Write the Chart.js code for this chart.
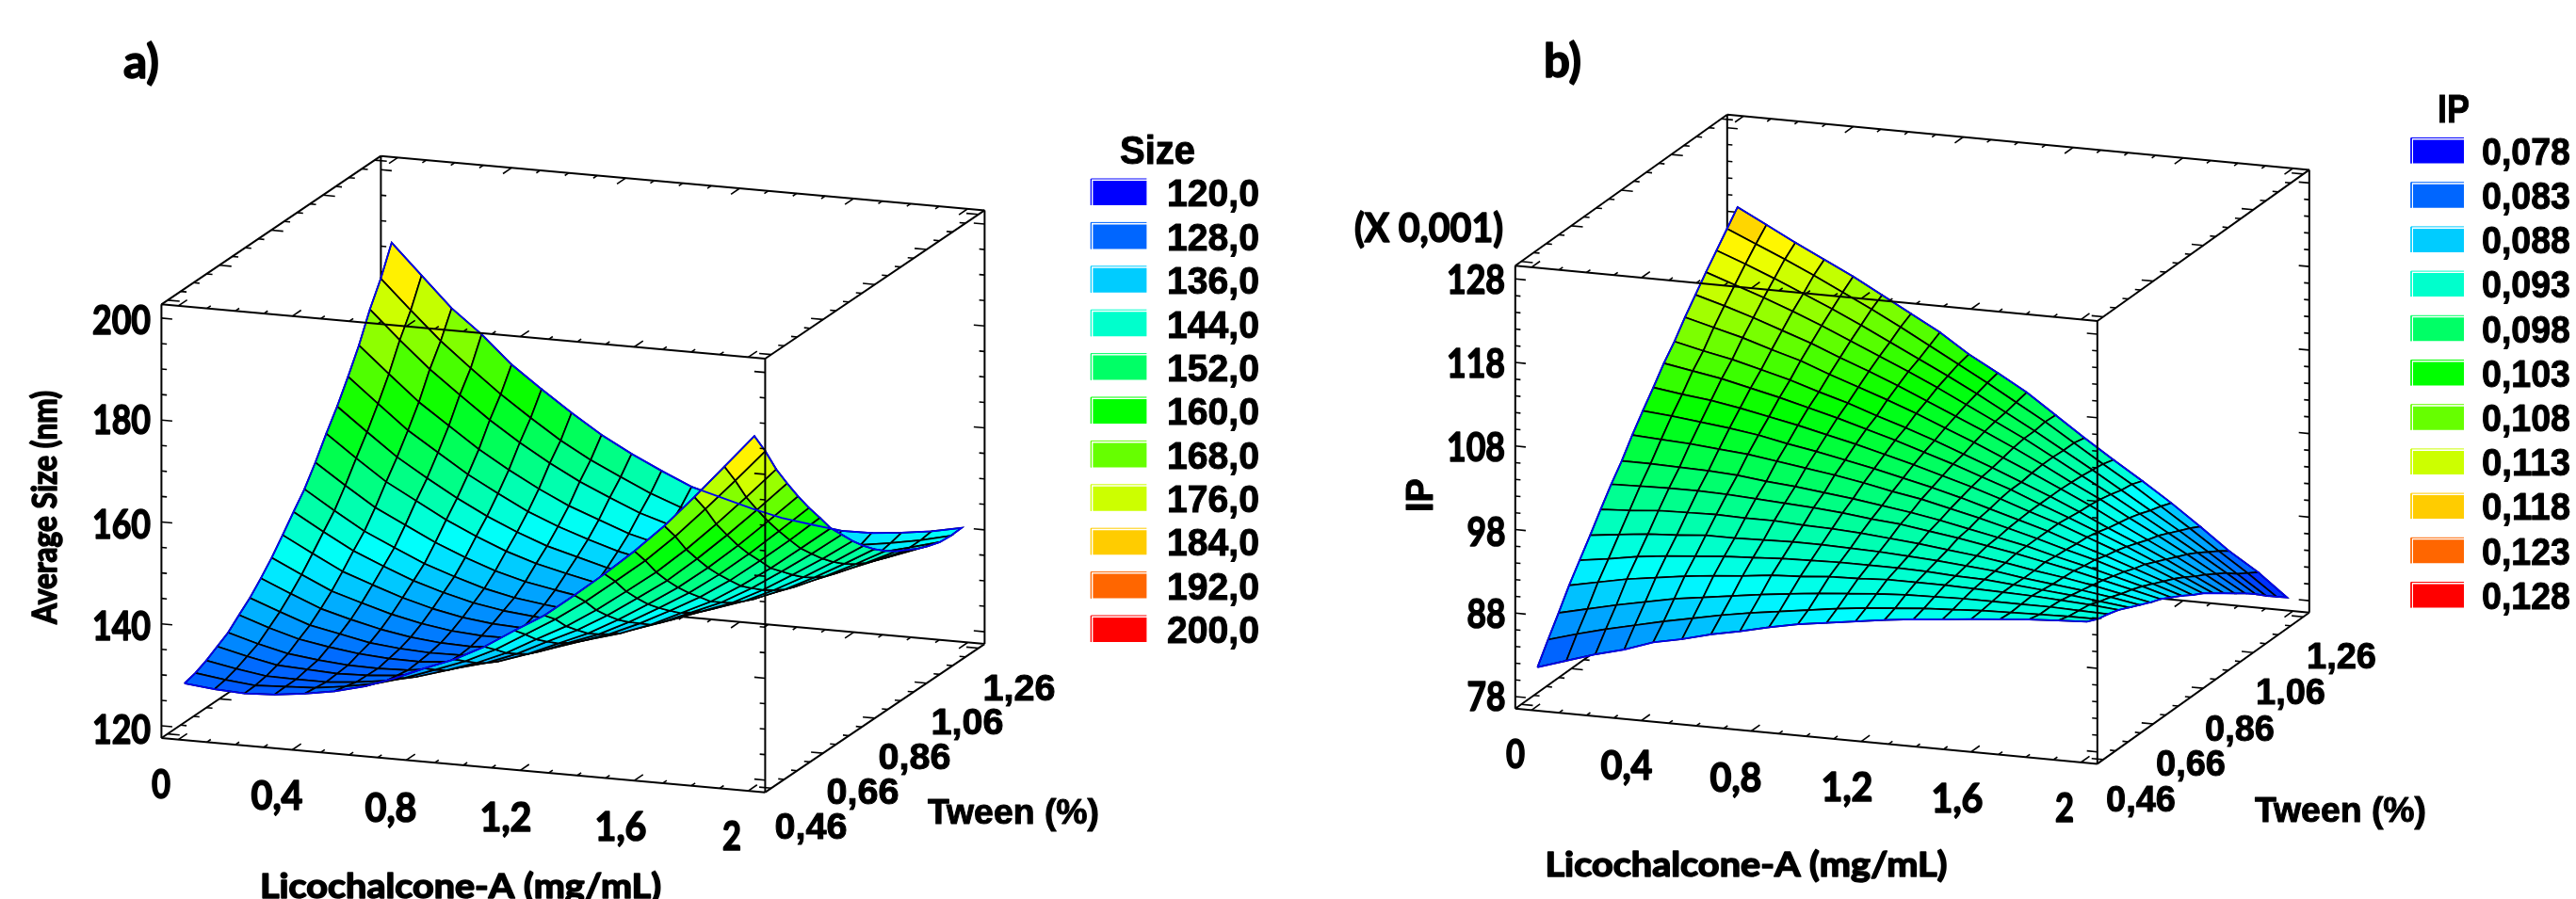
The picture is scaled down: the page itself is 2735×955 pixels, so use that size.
<!DOCTYPE html>
<html>
<head>
<meta charset="utf-8">
<title>Size and IP response surfaces</title>
<script src="https://cdn.jsdelivr.net/npm/chart.js@4"></script>
<style>
  html, body { margin: 0; padding: 0; background: #fff; overflow: hidden; }
  #wrap { position: relative; width: 2735px; height: 955px; }
  canvas { position: absolute; top: 0; }
</style>
</head>
<body>
<div id="wrap">
  <canvas id="sizeChart" width="1400" height="955" style="left:0"></canvas>
  <canvas id="ipChart" width="1335" height="955" style="left:1400px"></canvas>
</div>
<script>
const licoTicks = ['0', '0,4', '0,8', '1,2', '1,6', '2'];
const tweenTicks = ['0,46', '0,66', '0,86', '1,06', '1,26'];
const sizeTicks = ['120', '140', '160', '180', '200'];
const ipTicks = ['78', '88', '98', '108', '118', '128'];
const sizeLegend = ['120,0', '128,0', '136,0', '144,0', '152,0', '160,0', '168,0', '176,0', '184,0', '192,0', '200,0'];
const ipLegend = ['0,078', '0,083', '0,088', '0,093', '0,098', '0,103', '0,108', '0,113', '0,118', '0,123', '0,128'];
const legendColors = ['#0000ff', '#0066ff', '#00ccff', '#00ffcc', '#00ff66', '#00ff00', '#66ff00', '#ccff00', '#ffcc00', '#ff6600', '#ff0000'];
const rainbow = [[0, 0, 255], [0, 255, 255], [0, 255, 0], [255, 255, 0], [255, 0, 0]];

// node heights, one row per Tween step (0,46 first), 20 nodes along Licochalcone-A.
// outer rows and row ends measured off the mesh, inner nodes estimated by hand from them
const sizeRows = [
  [127.8,127.2,126.9,127.2,127.9,128.9,130.4,132.5,135,137.3,140.3,144,147.5,152,156.7,161.7,167.2,173.4,179.9,186.4],
  [128.4,127.6,127,127.3,127.6,128.4,129.5,131.2,133.3,135.5,138.3,141.8,145.3,149.3,153.8,158.4,163.7,169.6,175.7,182],
  [129.4,128.3,127.4,127.3,127.3,127.8,128.6,129.9,131.7,133.7,136.2,139.4,142.5,146.2,150.4,154.7,159.7,165.2,171,177],
  [130.7,129.3,128.1,127.8,127.5,127.7,128.2,129.2,130.7,132.3,134.6,137.5,140.3,143.7,147.6,151.6,156.4,161.6,167.1,172.8],
  [132,130.3,128.9,128.2,127.7,127.6,127.8,128.6,129.8,131.1,133.1,135.7,138.2,141.4,145,148.8,153.2,158.1,163.4,168.8],
  [134,132,130.3,129.3,128.5,128.1,128,128.5,129.4,130.4,132.1,134.4,136.6,139.5,142.8,146.3,150.4,155,160,165.1],
  [135.9,133.7,131.6,130.4,129.2,128.6,128.3,128.4,129.1,129.8,131.2,133.2,135.2,137.8,140.8,144,147.8,152.2,156.8,161.7],
  [138.3,135.8,133.4,131.8,130.4,129.4,128.8,128.6,129,129.4,130.5,132.2,133.9,136.1,138.9,141.7,145.3,149.3,153.7,158.2],
  [140.9,138.1,135.4,133.6,131.9,130.6,129.7,129.3,129.3,129.5,130.3,131.8,133.1,135.1,137.6,140.1,143.4,147.2,151.2,155.5],
  [143.9,140.8,137.8,135.7,133.7,132.1,130.9,130.2,129.9,129.8,130.3,131.5,132.5,134.2,136.4,138.6,141.6,145.1,148.8,152.8],
  [147,143.6,140.4,137.9,135.6,133.8,132.3,131.3,130.7,130.3,130.5,131.4,132.2,133.5,135.4,137.4,140.1,143.2,146.7,150.4],
  [150,146.3,142.8,140.1,137.5,135.5,133.7,132.4,131.6,130.9,130.8,131.4,131.9,133,134.7,136.4,138.8,141.7,144.9,148.3],
  [153.8,149.8,146,143.1,140.2,137.8,135.7,134.1,133,132,131.7,132,132.2,133,134.3,135.7,137.9,140.5,143.4,146.5],
  [158,153.7,149.6,146.4,143.2,140.5,138.1,136.2,134.8,133.5,132.9,132.9,132.8,133.3,134.3,135.4,137.3,139.6,142.2,145],
  [161.9,157.4,153,149.4,146,143,140.4,138.2,136.6,135,134.1,133.8,133.5,133.7,134.5,135.3,136.9,138.9,141.3,143.8],
  [166.3,161.5,156.8,153,149.2,146,143,140.6,138.6,136.8,135.5,135,134.3,134.3,134.8,135.3,136.6,138.3,140.4,142.6],
  [171,165.9,160.9,156.8,152.7,149.2,146,143.2,141,138.8,137.3,136.4,135.5,135.2,135.3,135.6,136.5,138,139.7,141.7],
  [176.6,171.1,165.9,161.4,157,153.1,149.6,146.5,143.9,141.4,139.6,138.4,137.1,136.4,136.3,136.2,136.8,137.9,139.4,141],
  [181.2,175.5,170,165.2,160.6,156.5,152.6,149.3,146.5,143.8,141.6,140.2,138.7,137.8,137.3,137,137.4,138.3,139.4,140.8],
  [186.8,180.9,175,170.4,165,160.7,156.6,152.8,149.6,146.8,144.2,142.6,141,139.7,138.9,138.2,138.3,138.9,139.7,140.9]
];
const ipRows = [
  [81.2,82.3,83.4,84.3,85.5,86.2,87.1,87.8,88.6,89.3,89.8,90.3,90.8,91.2,91.5,91.9,92.2,92.5,92.7,92.9],
  [83.6,84.6,85.5,86.3,87.1,87.8,88.5,89.1,89.6,90.1,90.6,91,91.3,91.6,91.8,92,92.1,92.2,92.3,92.3],
  [85.9,86.7,87.5,88.2,88.9,89.4,89.9,90.4,90.8,91.2,91.5,91.8,92,92.1,92.2,92.2,92.2,92.2,92.1,92],
  [88.3,89,89.7,90.2,90.7,91.1,91.4,91.8,92,92.3,92.4,92.6,92.6,92.6,92.5,92.4,92.3,92.1,91.9,91.6],
  [90.4,90.9,91.5,91.9,92.2,92.5,92.7,92.9,93,93.1,93.1,93.1,93,92.8,92.7,92.4,92.1,91.8,91.4,91],
  [92.5,92.9,93.3,93.5,93.8,93.8,93.9,94,94,93.9,93.8,93.6,93.4,93.1,92.8,92.3,91.9,91.5,91,90.4],
  [94.7,94.9,95.2,95.3,95.4,95.3,95.3,95.1,95,94.8,94.5,94.2,93.8,93.4,92.9,92.3,91.8,91.2,90.5,89.8],
  [96.8,96.9,97,97,96.9,96.7,96.5,96.3,96,95.6,95.3,94.8,94.3,93.7,93.1,92.4,91.7,90.9,90.1,89.3],
  [98.7,98.7,98.6,98.5,98.3,97.9,97.6,97.2,96.8,96.3,95.8,95.2,94.5,93.8,93.1,92.2,91.4,90.5,89.6,88.6],
  [100.9,100.7,100.5,100.2,99.9,99.4,98.9,98.4,97.8,97.1,96.5,95.7,94.9,94,93.1,92.1,91.2,90.1,89,87.9],
  [102.9,102.6,102.2,101.8,101.3,100.6,100,99.3,98.6,97.8,97,96.1,95.1,94.1,93.1,91.9,90.8,89.6,88.4,87.1],
  [104.8,104.3,103.9,103.3,102.6,101.9,101.1,100.3,99.4,98.5,97.5,96.5,95.4,94.2,93.1,91.8,90.5,89.2,87.8,86.4],
  [106.8,106.2,105.6,104.8,104,103.1,102.2,101.2,100.2,99.1,98,96.8,95.6,94.2,92.9,91.5,90.1,88.6,87.1,85.5],
  [108.5,107.7,107,106.1,105.2,104.1,103.1,101.9,100.8,99.6,98.3,97,95.6,94.2,92.7,91.1,89.6,88,86.3,84.6],
  [110.5,109.6,108.7,107.6,106.6,105.3,104.1,102.9,101.6,100.2,98.8,97.3,95.8,94.2,92.6,90.8,89.1,87.4,85.6,83.7],
  [112.3,111.3,110.2,109,107.8,106.4,105.1,103.7,102.2,100.7,99.2,97.6,95.9,94.1,92.4,90.5,88.7,86.8,84.8,82.8],
  [114.1,112.9,111.7,110.4,109,107.5,106,104.5,102.9,101.2,99.5,97.8,95.9,94,92.1,90.1,88.1,86.1,84,81.8],
  [115.8,114.5,113.1,111.6,110.1,108.5,106.8,105.1,103.4,101.6,99.7,97.8,95.8,93.8,91.7,89.6,87.5,85.3,83,80.7],
  [117.5,116,114.5,112.9,111.2,109.5,107.7,105.8,103.9,102,100,98,95.8,93.6,91.5,89.2,86.9,84.5,82.2,79.7],
  [119.2,117.4,115.6,113.9,112.2,110.3,108.4,106.5,104.2,102.3,100.3,97.9,95.5,93.2,91,88.7,86.2,83.6,81.4,78.7]
];

const LATO = 'Lato, sans-serif';
const ARIAL = '"Liberation Sans", sans-serif';

// axes run a little past the data, same as the original plot box
const licoRange = [-0.0593, 2.0593];
const tweenRange = [0.4363, 1.2837];

const panels = [
  {
    id: 'sizeChart', left: 0, right: 1400, rows: sizeRows,
    frame: { ox: 171.4, oy: 784, ux: 641, uy: 57.7, vx: 233, vy: -157.6, h: 460.7 },
    zRange: [117.6, 202.7], colorRange: [120, 200], zStart: 120, zMajor: 20, zMinor: 5, zEnd: 200,
    swatch: { x: 1158.4, w: 59, h: 28, y0: 204, dy: 46.4 },
    texts: [
      { t: 'a)', x: 150, y: 65, size: 50, font: LATO, w: 38 },
      { t: 'Average Size (nm)', x: 47, y: 539, size: 37, font: LATO, w: 248, rot: true },
      { t: 'Licochalcone-A (mg/mL)', x: 489, y: 941, size: 37, font: LATO, w: 426 },
      { t: 'Tween (%)', x: 1076, y: 862, size: 37, font: ARIAL, w: 182 },
      { t: 'Size', x: 1229, y: 159, size: 42, font: ARIAL, w: 80 }
    ],
    zLabels: sizeTicks, zLabelPos: [[129, 775], [129, 665], [129, 557], [129, 446], [129, 340]], zW: 62,
    xLabelPos: [[171, 833], [294, 845], [415, 858], [537, 868], [659, 878], [777, 888]],
    tLabelPos: [[861, 877], [916, 840], [971, 803], [1027, 766], [1082, 730]], tW: 77,
    legendLabels: sizeLegend, legendRight: 1337, legendW: 98, legendY0: 204.7, legendDy: 46.35
  },
  {
    id: 'ipChart', left: 1400, right: 2735, rows: ipRows,
    frame: { ox: 1608.8, oy: 752.7, ux: 618, uy: 58.7, vx: 225, vy: -160.6, h: 470.4 },
    zRange: [76.57, 129.58], colorRange: [78, 128], zStart: 78, zMajor: 10, zMinor: 2, zEnd: 128,
    swatch: { x: 2560, w: 56, h: 27, y0: 160, dy: 47.2 },
    texts: [
      { t: 'b)', x: 1659, y: 64, size: 50, font: LATO, w: 40 },
      { t: '(X 0,001)', x: 1517, y: 242, size: 42, font: LATO, w: 158 },
      { t: 'IP', x: 1507, y: 526, size: 40, font: ARIAL, w: 36, rot: true },
      { t: 'Licochalcone-A (mg/mL)', x: 1854, y: 918, size: 37, font: LATO, w: 427 },
      { t: 'Tween (%)', x: 2485, y: 860, size: 37, font: ARIAL, w: 182 },
      { t: 'IP', x: 2605, y: 115, size: 42, font: ARIAL, w: 34 }
    ],
    zLabels: ipTicks, zLabelPos: [[1578, 740], [1578, 652], [1578, 565], [1567, 475], [1567, 386], [1567, 297]], zW: 62,
    xLabelPos: [[1609, 801], [1727, 813], [1843, 826], [1961, 836], [2078, 848], [2192, 858]],
    tLabelPos: [[2273, 848], [2326, 810], [2378, 773], [2432, 734], [2486, 696]], tW: 74,
    legendLabels: ipLegend, legendRight: 2729, legendW: 94, legendY0: 160, legendDy: 47.2
  }
];

function surfaceColor(z, range) {
  let t = (z - range[0]) / (range[1] - range[0]) * (rainbow.length - 1);
  t = Math.max(0, Math.min(rainbow.length - 1.001, t));
  const k = Math.floor(t);
  const c = rainbow[k].map((v, n) => Math.round(v + (rainbow[k + 1][n] - v) * (t - k)));
  return `rgb(${c[0]}, ${c[1]}, ${c[2]})`;
}

function shape(data, color, width, fillColor) {
  return {
    data: data,
    showLine: true,
    borderColor: color,
    borderWidth: width,
    backgroundColor: fillColor || 'transparent',
    fill: fillColor ? 'shape' : false,
    pointRadius: 0,
    pointHoverRadius: 0,
    tension: 0
  };
}

function buildDatasets(p) {
  const f = p.frame;
  // u, v, w are 0..1 inside the plot box
  const at = (u, v, w) => ({ x: f.ox + f.ux * u + f.vx * v, y: f.oy + f.uy * u + f.vy * v - f.h * w });
  const uOf = x => (x - licoRange[0]) / (licoRange[1] - licoRange[0]);
  const vOf = t => (t - tweenRange[0]) / (tweenRange[1] - tweenRange[0]);
  const wOf = z => (z - p.zRange[0]) / (p.zRange[1] - p.zRange[0]);
  const gap = { x: NaN, y: NaN };
  const seg = (out, a, b) => out.push(a, b, gap);

  const nx = p.rows[0].length;
  const ny = p.rows.length;
  const node = (i, j) => at(uOf(2 * i / (nx - 1)), vOf(0.46 + 0.8 * j / (ny - 1)), wOf(p.rows[j][i]));

  const back = [], backTicks = [], front = [], frontTicks = [];
  seg(back, at(0, 1, 0), at(0, 1, 1));
  seg(back, at(0, 1, 1), at(1, 1, 1));
  seg(back, at(0, 1, 0), at(1, 1, 0));
  seg(back, at(0, 0, 0), at(0, 1, 0));
  seg(back, at(0, 0, 1), at(0, 1, 1));
  seg(back, at(1, 1, 0), at(1, 1, 1));
  seg(back, at(1, 0, 0), at(1, 1, 0));
  seg(front, at(0, 0, 0), at(0, 0, 1));
  seg(front, at(0, 0, 1), at(1, 0, 1));
  seg(front, at(1, 0, 0), at(1, 0, 1));
  seg(front, at(0, 0, 0), at(1, 0, 0));
  seg(front, at(1, 0, 1), at(1, 1, 1));

  // z ticks on the four uprights
  for (let n = 0; p.zStart + n * p.zMinor <= p.zEnd; n++) {
    const z = p.zStart + n * p.zMinor;
    const len = (n * p.zMinor) % p.zMajor === 0 ? 0.018 : 0.009;
    const w = wOf(z);
    seg(frontTicks, at(0, 0, w), at(len, 0, w));
    seg(frontTicks, at(1, 0, w), at(1 - len, 0, w));
    seg(backTicks, at(0, 1, w), at(len, 1, w));
    seg(backTicks, at(1, 1, w), at(1 - len, 1, w));
  }
  // Licochalcone ticks on the four long edges
  for (let n = 0; n <= 20; n++) {
    const u = uOf(n / 10);
    const len = n % 4 === 0 ? 0.04 : 0.018;
    seg(frontTicks, at(u, 0, 0), at(u, len, 0));
    seg(frontTicks, at(u, 0, 1), at(u, len, 1));
    seg(backTicks, at(u, 1, 1), at(u, 1 - len, 1));
    seg(backTicks, at(u, 1, 0), at(u, 1 - len, 0));
  }
  // Tween ticks on the four depth edges
  for (let n = 0; n <= 16; n++) {
    const v = vOf(0.46 + n * 0.05);
    const len = n % 4 === 0 ? 0.02 : 0.01;
    seg(backTicks, at(0, v, 1), at(len, v, 1));
    seg(backTicks, at(0, v, 0), at(len, v, 0));
    seg(frontTicks, at(1, v, 1), at(1 - len, v, 1));
    seg(frontTicks, at(1, v, 0), at(1 - len, v, 0));
  }

  const sets = [];
  sets.push(shape(back, '#000', 2), shape(backTicks, '#000', 1.6));

  // far cells first so the near ones cover them
  for (let j = ny - 2; j >= 0; j--) {
    for (let i = 0; i < nx - 1; i++) {
      const z = (p.rows[j][i] + p.rows[j][i + 1] + p.rows[j + 1][i] + p.rows[j + 1][i + 1]) / 4;
      const cell = [node(i, j), node(i + 1, j), node(i + 1, j + 1), node(i, j + 1), node(i, j)];
      sets.push(shape(cell, '#000', 1.7, surfaceColor(z, p.colorRange)));
    }
  }

  // blue outline sits on top of the mesh in the original
  const rim = [];
  for (let i = 0; i < nx; i++) rim.push(node(i, 0));
  for (let j = 1; j < ny; j++) rim.push(node(nx - 1, j));
  for (let i = nx - 2; i >= 0; i--) rim.push(node(i, ny - 1));
  for (let j = ny - 2; j >= 0; j--) rim.push(node(0, j));
  sets.push(shape(rim, '#0000ee', 1.8));

  sets.push(shape(front, '#000', 2), shape(frontTicks, '#000', 1.6));

  // legend swatches
  legendColors.forEach((c, n) => {
    const s = p.swatch;
    const y = s.y0 + n * s.dy;
    const x0 = s.x, x1 = s.x + s.w, y0 = y - s.h / 2, y1 = y + s.h / 2;
    sets.push(shape([{ x: x0, y: y0 }, { x: x1, y: y0 }, { x: x1, y: y1 }, { x: x0, y: y1 }, { x: x0, y: y0 }], c, 0, '#fff'));
    sets.push(shape([{ x: x0, y: y0 }, { x: x1, y: y0 }], c, 1));
    sets.push(shape([{ x: x0, y: y0 }, { x: x0, y: y1 }], c, 1));
    sets.push(shape([{ x: x0 + 2, y: y0 + 2 }, { x: x1, y: y0 + 2 }, { x: x1, y: y1 }, { x: x0 + 2, y: y1 }, { x: x0 + 2, y: y0 + 2 }], c, 0, c));
  });

  // Chart.js paints the first dataset last
  return sets.reverse();
}

function drawLabel(ctx, item) {
  ctx.save();
  ctx.translate(item.x, item.y);
  if (item.rot) ctx.rotate(-Math.PI / 2);
  ctx.font = `bold ${item.size}px ${item.font}`;
  ctx.fillStyle = '#000';
  ctx.strokeStyle = '#000';
  // the original lettering is heavier than the bold faces here
  ctx.lineWidth = item.font === LATO ? 1.6 : 1;
  ctx.lineJoin = 'round';
  ctx.textAlign = 'center';
  ctx.textBaseline = 'alphabetic';
  const w = ctx.measureText(item.t).width;
  if (item.w) ctx.scale(item.w / w, 1);
  ctx.fillText(item.t, 0, item.size * 0.36);
  ctx.strokeText(item.t, 0, item.size * 0.36);
  ctx.restore();
}

const labelsPlugin = {
  id: 'panelLabels',
  afterDraw(chart, args, opts) {
    const p = opts.panel;
    const ctx = chart.ctx;
    ctx.save();
    ctx.translate(-p.left, 0);
    p.texts.forEach(item => drawLabel(ctx, item));
    p.zLabels.forEach((t, n) => {
      const w = t.length === 2 ? p.zW * 0.66 : p.zW;
      drawLabel(ctx, { t: t, x: p.zLabelPos[n][0], y: p.zLabelPos[n][1], size: 42, font: LATO, w: w });
    });
    licoTicks.forEach((t, n) => {
      const w = t.length === 1 ? 20 : 55;
      drawLabel(ctx, { t: t, x: p.xLabelPos[n][0], y: p.xLabelPos[n][1], size: 42, font: LATO, w: w });
    });
    tweenTicks.forEach((t, n) => {
      drawLabel(ctx, { t: t, x: p.tLabelPos[n][0], y: p.tLabelPos[n][1], size: 39, font: ARIAL, w: p.tW });
    });
    p.legendLabels.forEach((t, n) => {
      drawLabel(ctx, { t: t, x: p.legendRight - p.legendW / 2, y: p.legendY0 + n * p.legendDy, size: 41, font: ARIAL, w: p.legendW });
    });
    ctx.restore();
  }
};

panels.forEach(p => {
  new Chart(document.getElementById(p.id), {
    type: 'scatter',
    data: { datasets: buildDatasets(p) },
    plugins: [labelsPlugin],
    options: {
      responsive: false,
      animation: false,
      devicePixelRatio: 1,
      layout: { padding: 0 },
      events: [],
      scales: {
        x: { type: 'linear', display: false, min: p.left, max: p.right },
        y: { type: 'linear', display: false, min: 0, max: 955, reverse: true }
      },
      plugins: {
        legend: { display: false },
        tooltip: { enabled: false },
        panelLabels: { panel: p }
      }
    }
  });
});
</script>
</body>
</html>
